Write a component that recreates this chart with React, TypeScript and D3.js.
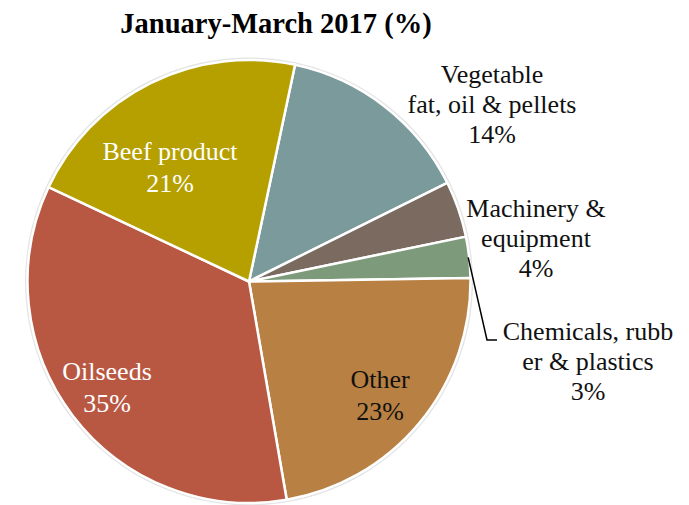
import React from "react";
import * as d3 from "d3";

const categories = ["Vegetable fat, oil & pellets", "Machinery & equipment", "Chemicals, rubber & plastics", "Other", "Oilseeds", "Beef product"];
const values = [14.3, 4.1, 3.0, 22.5, 34.7, 21.3];
const percentLabels = ["14%", "4%", "3%", "23%", "35%", "21%"];
const colors = ["#7A9A9B", "#7A6A5F", "#7D9B7A", "#B88042", "#B95842", "#B5A000"];

const labelLines: string[][] = [
  ["Vegetable", "fat, oil & pellets", percentLabels[0]],
  ["Machinery &", "equipment", percentLabels[1]],
  ["Chemicals, rubb", "er & plastics", percentLabels[2]],
  ["Other", percentLabels[3]],
  ["Oilseeds", percentLabels[4]],
  ["Beef product", percentLabels[5]],
];
const labelPos: [number, number][] = [
  [492, 83],
  [536, 217],
  [588, 340],
  [380, 388],
  [107, 380],
  [170, 160],
];
const labelColor = ["#111", "#111", "#111", "#111", "#fff", "#fff"];

export default function App() {
  const W = 689, H = 505;
  const cx = 249, cy = 281.5, r = 221.5;
  const startAngle = (12 * Math.PI) / 180;
  const pie = d3.pie<number>().sort(null).value((d) => d).startAngle(startAngle).endAngle(startAngle + 2 * Math.PI);
  const arcs = pie(values);
  const arc = d3.arc<d3.PieArcDatum<number>>().innerRadius(0).outerRadius(r);
  const chem = arcs[2];
  const mid = (chem.startAngle + chem.endAngle) / 2;
  const lx0 = cx + Math.sin(mid) * (r - 1);
  const ly0 = cy - Math.cos(mid) * (r - 1);
  return (
    <svg width={W} height={H} style={{ position: "absolute", left: 0, top: 0 }} fontFamily="'Liberation Serif', 'Times New Roman', serif">
      <rect width={W} height={H} fill="#fff" />
      <text x={276} y={33} textAnchor="middle" fontSize={28.5} fontWeight="bold" fill="#000">January-March 2017 (%)</text>
      <circle cx={cx} cy={cy} r={r + 1.5} fill="none" stroke="#e4e4e4" strokeWidth={2} />
      <g transform={`translate(${cx},${cy})`}>
        {arcs.map((a, i) => (
          <path key={categories[i]} d={arc(a) || ""} fill={colors[i]} stroke="#fff" strokeWidth={2.5} strokeLinejoin="round" />
        ))}
      </g>
      <polyline points={`${lx0},${ly0} 487,340 497,340`} fill="none" stroke="#000" strokeWidth={1.5} />
      {labelLines.map((lines, i) => (
        <text key={i} textAnchor="middle" fontSize={26} fill={labelColor[i]}>
          {lines.map((l, j) => (
            <tspan key={j} x={labelPos[i][0]} y={labelPos[i][1] + j * (i >= 3 ? 32 : 30)}>{l}</tspan>
          ))}
        </text>
      ))}
    </svg>
  );
}
